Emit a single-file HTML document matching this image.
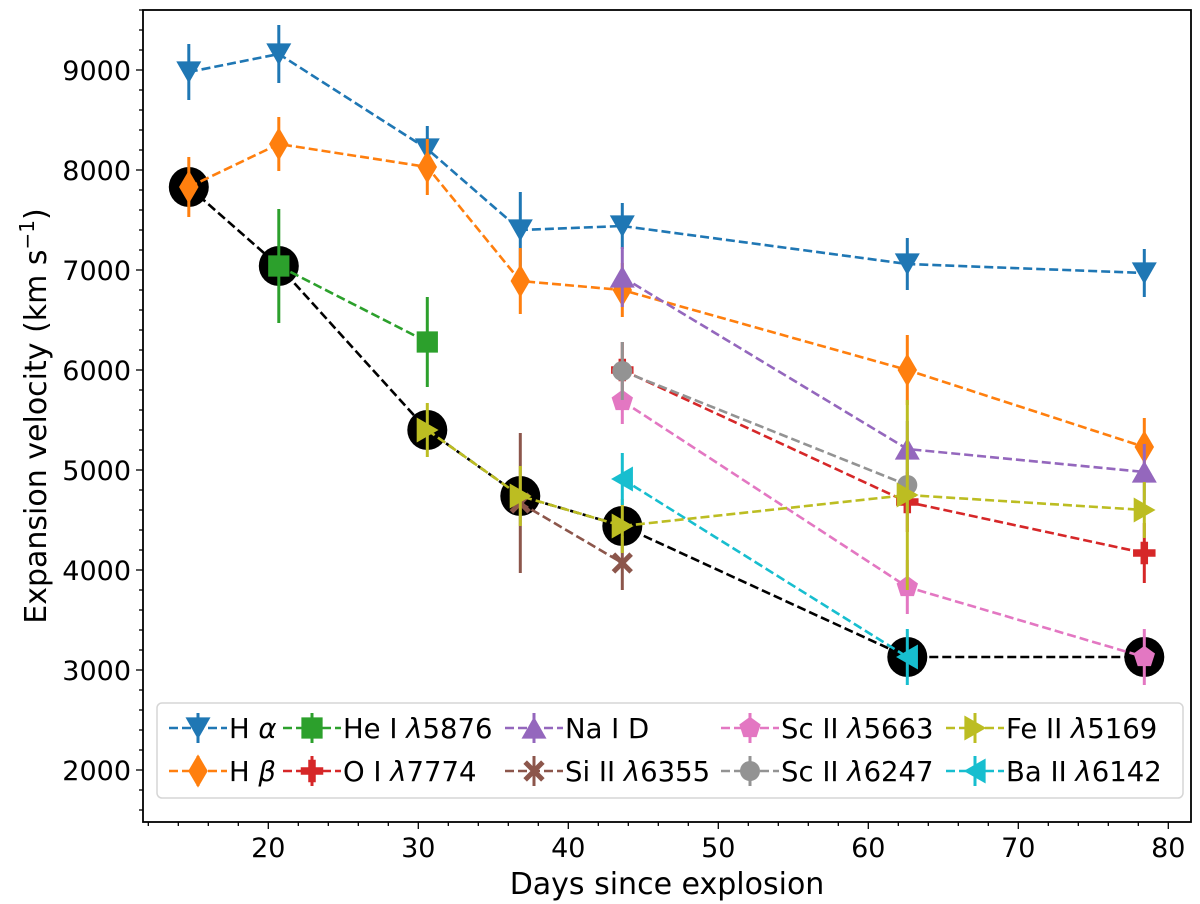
<!DOCTYPE html>
<html><head><meta charset="utf-8">
<style>
html,body{margin:0;padding:0;background:#fff;}
svg{display:block;font-family:"DejaVu Sans","Liberation Sans",sans-serif;}
</style></head>
<body>
<svg id="chart" width="1200" height="904" viewBox="0 0 1200 904" xmlns="http://www.w3.org/2000/svg">
<rect x="0" y="0" width="1200" height="904" fill="#fff"/>
<g id="plot"></g>
<g id="axes"></g>
<g id="legend"></g>
</svg>
<script>
// ---- data ----
const days = [14.7, 20.7, 30.6, 36.8, 43.6, 62.6, 78.4];
const haX = [14.7, 20.7, 30.6, 36.8, 43.6, 62.6, 78.4];
const haY = [8980, 9160, 8210, 7400, 7440, 7060, 6970];
const haE = [280, 290, 230, 380, 230, 260, 240];
const hbX = [14.7, 20.7, 30.6, 36.8, 43.6, 62.6, 78.4];
const hbY = [7830, 8260, 8030, 6890, 6800, 6000, 5230];
const hbE = [300, 270, 280, 330, 270, 350, 290];
const heX = [20.7, 30.6];
const heY = [7040, 6280];
const heE = [570, 450];
const oiX = [43.6, 62.6, 78.4];
const oiY = [6000, 4680, 4170];
const oiE = [280, 300, 300];
const naX = [43.6, 62.6, 78.4];
const naY = [6930, 5210, 4980];
const naE = [300, 280, 280];
const siX = [36.8, 43.6];
const siY = [4670, 4070];
const siE = [700, 270];
const sc1X = [43.6, 62.6, 78.4];
const sc1Y = [5690, 3830, 3130];
const sc1E = [230, 270, 280];
const sc2X = [43.6, 62.6];
const sc2Y = [5990, 4850];
const sc2E = [290, 280];
const feX = [30.6, 36.8, 43.6, 62.6, 78.4];
const feY = [5400, 4740, 4440, 4750, 4600];
const feE = [270, 300, 270, 950, 280];
const baX = [43.6, 62.6];
const baY = [4910, 3130];
const baE = [260, 280];
const minX = [14.7, 20.7, 30.6, 36.8, 43.6, 62.6, 78.4];
const minY = [7830, 7040, 5400, 4740, 4440, 3130, 3130];
const xTicks = [20, 30, 40, 50, 60, 70, 80];
const yTicks = [2000, 3000, 4000, 5000, 6000, 7000, 8000, 9000];

// ---- axes ----
const L=143, R=1191, T=10, B=822;
function sx(d){return 268.3 + (d-20)*15.0;}
function sy(v){return 70 + (9000-v)*0.1;}
const NS='http://www.w3.org/2000/svg';
function mk(tag, attrs, parent){const e=document.createElementNS(NS,tag);for(const k in attrs)e.setAttribute(k,attrs[k]);parent.appendChild(e);return e;}

const plot=document.getElementById('plot');
const axes=document.getElementById('axes');
const legend=document.getElementById('legend');

function markerPath(type, cx, cy, s){
  switch(type){
    case 'v': return `M${cx-s},${cy-s*0.85} L${cx+s},${cy-s*0.85} L${cx},${cy+s*0.9} Z`;
    case '^': return `M${cx-s},${cy+s*0.85} L${cx+s},${cy+s*0.85} L${cx},${cy-s*0.9} Z`;
    case '>': return `M${cx-s*0.85},${cy-s} L${cx-s*0.85},${cy+s} L${cx+s*0.9},${cy} Z`;
    case '<': return `M${cx+s*0.85},${cy-s} L${cx+s*0.85},${cy+s} L${cx-s*0.9},${cy} Z`;
    case 'd': return `M${cx},${cy-s*1.33} L${cx+s*0.78},${cy} L${cx},${cy+s*1.33} L${cx-s*0.78},${cy} Z`;
    case 's': {const h=s*0.85;return `M${cx-h},${cy-h} H${cx+h} V${cy+h} H${cx-h} Z`;}
    case 'P': {const a=s*0.9,b=a/3;return `M${cx-b},${cy-a} H${cx+b} V${cy-b} H${cx+a} V${cy+b} H${cx+b} V${cy+a} H${cx-b} V${cy+b} H${cx-a} V${cy-b} H${cx-b} Z`;}
    case 'X': {const a=s*0.85,b=a/3;
      const pts=[[-b,0],[-a,-a+b],[-a+b,-a],[0,-b],[a-b,-a],[a,-a+b],[b,0],[a,a-b],[a-b,a],[0,b],[-a+b,a],[-a,a-b]];
      return 'M'+pts.map(q=>(cx+q[0])+','+(cy+q[1])).join(' L')+' Z';}
    case 'p': {let d='';for(let i=0;i<5;i++){const ang=-Math.PI/2+i*2*Math.PI/5;d+=(i?'L':'M')+(cx+s*0.9*Math.cos(ang))+','+(cy+s*0.9*Math.sin(ang))+' ';}return d+'Z';}
    case 'o': return `M${cx-s*0.8},${cy} a${s*0.8},${s*0.8} 0 1,0 ${s*1.6},0 a${s*0.8},${s*0.8} 0 1,0 ${-s*1.6},0 Z`;
  }
}

// black minimum line
const minG=mk('g',{},plot);


let dmin='';
minX.forEach((x,i)=>{dmin+=(i?'L':'M')+sx(x)+','+sy(minY[i])+' ';});
mk('path',{d:dmin,fill:'none',stroke:'#000','stroke-width':2.6,'stroke-dasharray':'9,4'},minG);
minX.forEach((x,i)=>{
  const c=mk('circle',{cx:sx(x),cy:sy(minY[i]),r:20,fill:'#000'},minG);
  
  
});

const series=[
  {name:'H α',key:'h-alpha',x:haX,y:haY,e:haE,c:'#1f77b4',m:'v'},
  {name:'H β',key:'h-beta',x:hbX,y:hbY,e:hbE,c:'#ff7f0e',m:'d'},
  {name:'He I λ5876',key:'he-i-5876',x:heX,y:heY,e:heE,c:'#2ca02c',m:'s'},
  {name:'O I λ7774',key:'o-i-7774',x:oiX,y:oiY,e:oiE,c:'#d62728',m:'P'},
  {name:'Na I D',key:'na-i-d',x:naX,y:naY,e:naE,c:'#9467bd',m:'^'},
  {name:'Si II λ6355',key:'si-ii-6355',x:siX,y:siY,e:siE,c:'#8c564b',m:'X'},
  {name:'Sc II λ5663',key:'sc-ii-5663',x:sc1X,y:sc1Y,e:sc1E,c:'#e377c2',m:'p'},
  {name:'Sc II λ6247',key:'sc-ii-6247',x:sc2X,y:sc2Y,e:sc2E,c:'#939393',m:'o'},
  {name:'Fe II λ5169',key:'fe-ii-5169',x:feX,y:feY,e:feE,c:'#bcbd22',m:'>'},
  {name:'Ba II λ6142',key:'ba-ii-6142',x:baX,y:baY,e:baE,c:'#17becf',m:'<'}
];

series.forEach(s=>{
  const g=mk('g',{},plot);
  
  
  s.x.forEach((x,i)=>{
    mk('line',{x1:sx(x),x2:sx(x),y1:sy(s.y[i]+s.e[i]),y2:sy(s.y[i]-s.e[i]),stroke:s.c,'stroke-width':3},g);
  });
  let d='';
  s.x.forEach((x,i)=>{d+=(i?'L':'M')+sx(x)+','+sy(s.y[i])+' ';});
  mk('path',{d:d,fill:'none',stroke:s.c,'stroke-width':2.6,'stroke-dasharray':'9,4'},g);
  s.x.forEach((x,i)=>{
    const p=mk('path',{d:markerPath(s.m,sx(x),sy(s.y[i]),12.5),fill:s.c},g);
    
    
  });
});

// frame
mk('rect',{x:L,y:T,width:R-L,height:B-T,fill:'none',stroke:'#000','stroke-width':1.8},axes);
for(let d=12; d<=81; d+=2){
  const major = d%10===0;
  mk('line',{x1:sx(d),x2:sx(d),y1:B,y2:B+(major?7:4),stroke:'#000','stroke-width':1.3},axes);
}
xTicks.forEach(t=>{
  const tx=mk('text',{x:sx(t),y:B+35,'font-size':27,'text-anchor':'middle',fill:'#000'},axes);
  tx.textContent=t;
  
  
});
for(let v=1600; v<=9600; v+=200){
  const major=v%1000===0;
  mk('line',{x1:L,x2:L-(major?7:4),y1:sy(v),y2:sy(v),stroke:'#000','stroke-width':1.3},axes);
}
yTicks.forEach(t=>{
  const tx=mk('text',{x:L-12,y:sy(t)+10,'font-size':27,'text-anchor':'end',fill:'#000'},axes);
  tx.textContent=t;
  
  
});
const xt=mk('text',{x:(L+R)/2,y:894,'font-size':30,'text-anchor':'middle',fill:'#000'},axes);
xt.textContent='Days since explosion';


const yt=mk('text',{x:0,y:0,'font-size':30,'text-anchor':'middle',fill:'#000',transform:'translate(46,416) rotate(-90)'},axes);
yt.innerHTML='Expansion velocity (km s<tspan dy="-12" font-size="20">−1</tspan><tspan dy="12">)</tspan>';



// legend
mk('rect',{x:157,y:703,width:1026,height:95,rx:5,fill:'#fff','fill-opacity':0.85,stroke:'#d6d6d6','stroke-width':1.5},legend);
const colX=[169,283,505,721,946];
const rowY=[728,771];
series.forEach((s,i)=>{
  const col=Math.floor(i/2), row=i%2;
  const hx=colX[col], hy=rowY[row];
  const g=mk('g',{},legend);
  
  
  mk('line',{x1:hx,x2:hx+58,y1:hy,y2:hy,stroke:s.c,'stroke-width':2.6,'stroke-dasharray':'9,4'},g);
  mk('line',{x1:hx+29,x2:hx+29,y1:hy-15,y2:hy+15,stroke:s.c,'stroke-width':3},g);
  mk('path',{d:markerPath(s.m,hx+29,hy,12.5),fill:s.c},g);
  const t=mk('text',{x:hx+60,y:hy+10,'font-size':27.5,fill:'#000'},g);
  if(s.name.startsWith('H ')){
    t.innerHTML='H <tspan font-style="italic">'+s.name.slice(2)+'</tspan>';
  } else {
    t.innerHTML=s.name.replace('λ','<tspan font-style="italic">λ</tspan>');
  }
});
</script>
</body></html>
